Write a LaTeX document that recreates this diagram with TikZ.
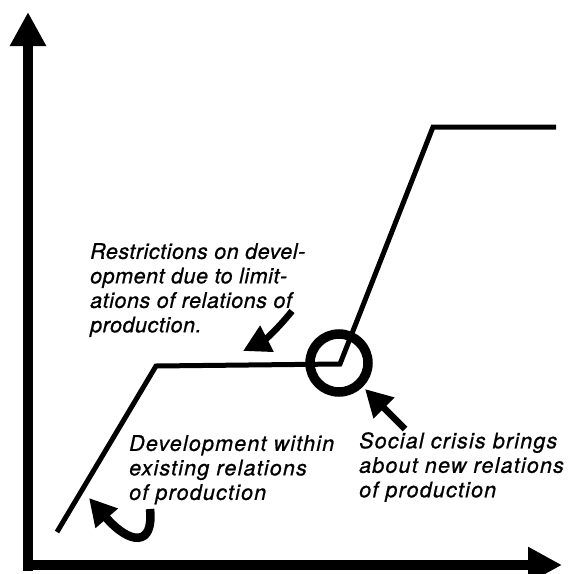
\documentclass[tikz,border=0pt]{standalone}
\usepackage{fontspec}
\setmainfont{TeX Gyre Heros}
\newfontfamily\notefamily{TeX Gyre Heros}[ItalicFeatures={FakeBold=0.8,LetterSpace=5.5}]
\newfontfamily\tightfamily{TeX Gyre Heros}[ItalicFeatures={FakeBold=0.8,LetterSpace=2.5}]
\usetikzlibrary{arrows.meta}
\newcommand{\notefont}{\notefamily\fontsize{21.5}{24.5}\selectfont\itshape}
\newcommand{\tightfont}{\tightfamily\fontsize{21.5}{24.5}\selectfont\itshape}
\tikzset{
 every node/.append style={font=\notefont,align=left,inner sep=0pt,anchor=north west},
 tight/.style={font=\tightfont},
 axis/.style={line width=9.5pt,-{Triangle[length=34pt,width=34pt]}},
 growth/.style={line width=5pt,line join=miter},
 crisis/.style={line width=9.5pt},
 pointer/.style={line width=6.5pt,-{Triangle[length=27pt,width=28pt]}},
}
\begin{document}
\begin{tikzpicture}[x=1pt,y=-1pt]
\useasboundingbox (0,0) rectangle (571,574);
% axes
\coordinate (origin) at (28,565);
\coordinate (ytop) at (28,12);
\coordinate (xend) at (562,565);
\draw[axis] (28,571) -- (ytop);
\draw[axis] (23,565) -- (xend);
% development curve
\coordinate (c0) at (57,532);
\coordinate (c1) at (156,366);
\coordinate (c2) at (340,364);
\coordinate (c3) at (433,127);
\coordinate (c4) at (556,127);
\draw[growth] (c0) -- (c1) -- (c2) -- (c3) -- (c4);
\draw[crisis] (339,363) circle (29);
% labels
\node[tight] (restrict) at (90,243) {Restrictions on devel-\\opment due to limit-\\ations of relations of\\production.};
\node (within) at (129,435) {Development within\\existing relations\\of production};
\node (social) at (359,432) {Social crisis brings\\about new relations\\of production};
% pointers
\coordinate (r0) at (292,311);
\coordinate (r1) at (243,351);
\draw[pointer] (r0) to[bend left=12] (r1);
\coordinate (s0) at (405,429);
\coordinate (s1) at (365,389);
\draw[pointer] (s0) -- (s1);
\coordinate (d0) at (150,509);
\coordinate (d1) at (89,498);
\draw[pointer,line width=8.5pt] (d0) .. controls (154,547) and (130,545) .. (d1);
\end{tikzpicture}
\end{document}
